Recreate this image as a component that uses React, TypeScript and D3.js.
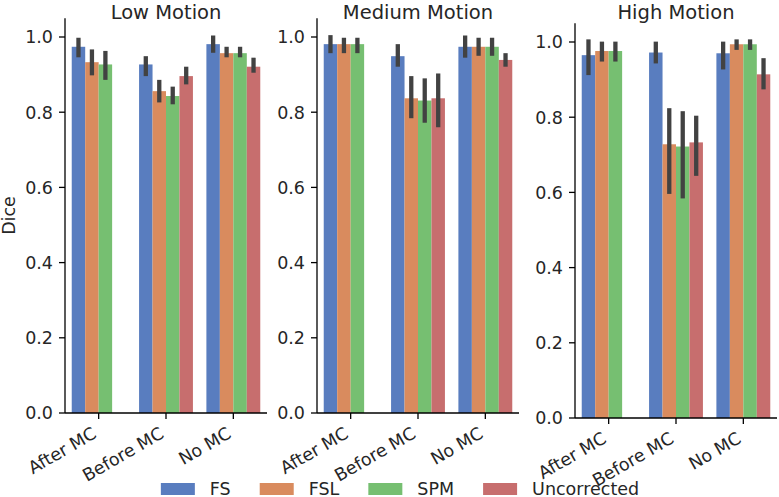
import * as d3 from "d3";

const categories = ["After MC", "Before MC", "No MC"];
const methods = ["FS", "FSL", "SPM", "Uncorrected"];
const colors = ["#597dbf", "#d98b5e", "#76bf71", "#c76e6e"];
const titles = ["Low Motion", "Medium Motion", "High Motion"];
const yTicks = [0, 0.2, 0.4, 0.6, 0.8, 1.0];

// mean dice per [category][method]; null = no bar
const lowMeans = [
  [0.974, 0.933, 0.927, null],
  [0.927, 0.856, 0.843, 0.896],
  [0.981, 0.957, 0.957, 0.921],
];
const lowErr = [
  [[0.946, 0.998], [0.898, 0.967], [0.886, 0.963], null],
  [[0.896, 0.949], [0.826, 0.886], [0.821, 0.868], [0.874, 0.921]],
  [[0.958, 1.004], [0.946, 0.974], [0.946, 0.974], [0.905, 0.945]],
];
const medMeans = [
  [0.981, 0.981, 0.981, null],
  [0.949, 0.837, 0.831, 0.837],
  [0.974, 0.974, 0.974, 0.939],
];
const medErr = [
  [[0.957, 1.005], [0.957, 0.998], [0.957, 0.998], null],
  [[0.921, 0.981], [0.784, 0.896], [0.772, 0.89], [0.76, 0.903]],
  [[0.945, 1.004], [0.95, 0.998], [0.95, 0.998], [0.921, 0.957]],
];
const highMeans = [
  [0.965, 0.976, 0.976, null],
  [0.972, 0.728, 0.722, 0.733],
  [0.97, 0.994, 0.994, 0.914],
];
const highErr = [
  [[0.912, 1.007], [0.948, 1.001], [0.948, 1.001], null],
  [[0.943, 1.001], [0.596, 0.824], [0.584, 0.816], [0.644, 0.804]],
  [[0.927, 1.001], [0.979, 1.007], [0.979, 1.007], [0.874, 0.957]],
];

const panelMeans = [lowMeans, medMeans, highMeans];
const panelErr = [lowErr, medErr, highErr];

const W = 779;
const H = 497;
const FONT = "DejaVu Sans";
const TXT = "#262626";
const FS = 17.5;
const panelX = [
  [65, 267],
  [317, 519],
  [575, 777],
];
const panelBottom = [413, 413, 418];
const unit = 376;

function measure(text: string, size: number) {
  const ctx = document.createElement("canvas").getContext("2d");
  if (!ctx) return text.length * size * 0.6;
  ctx.font = `${size}px "${FONT}"`;
  return ctx.measureText(text).width;
}

function Panel({ idx }: { idx: number }) {
  const [x0, x1] = panelX[idx];
  const yB = panelBottom[idx];
  const y = d3.scaleLinear().domain([0, 1.05]).range([yB, yB - 1.05 * unit]);
  const x = d3
    .scaleBand()
    .domain(categories)
    .range([x0, x1])
    .paddingInner(0.2)
    .paddingOuter(0.1);
  const xHue = d3.scaleBand().domain(methods).range([0, x.bandwidth()]);
  const means = panelMeans[idx];
  const errs = panelErr[idx];

  return (
    <g>
      {categories.map((cat, ci) =>
        methods.map((m, mi) => {
          const v = means[ci][mi];
          if (v == null) return null;
          const bx = (x(cat) ?? 0) + (xHue(m) ?? 0);
          return (
            <rect
              key={cat + m}
              x={bx}
              y={y(v)}
              width={xHue.bandwidth()}
              height={y(0) - y(v)}
              fill={colors[mi]}
            />
          );
        })
      )}
      {categories.map((cat, ci) =>
        methods.map((m, mi) => {
          const e = errs[ci][mi];
          if (e == null) return null;
          const cx = (x(cat) ?? 0) + (xHue(m) ?? 0) + xHue.bandwidth() / 2;
          return (
            <line
              key={"e" + cat + m}
              x1={cx}
              x2={cx}
              y1={y(e[0])}
              y2={y(e[1])}
              stroke="#424242"
              strokeWidth={4.3}
            />
          );
        })
      )}
      {/* spines */}
      <line x1={x0} x2={x0} y1={y(1.05)} y2={yB} stroke="#000" strokeWidth={1.3} />
      <line x1={x0} x2={x1} y1={yB} y2={yB} stroke="#000" strokeWidth={1.3} />
      {yTicks.map((t) => (
        <g key={t}>
          <line x1={x0 - 6} x2={x0} y1={y(t)} y2={y(t)} stroke="#000" strokeWidth={1.3} />
          <text
            x={x0 - 12}
            y={y(t)}
            dy="0.36em"
            textAnchor="end"
            fontSize={FS}
            fontFamily={FONT}
            fill={TXT}
          >
            {d3.format(".1f")(t)}
          </text>
        </g>
      ))}
      {categories.map((cat) => {
        const cx = (x(cat) ?? 0) + x.bandwidth() / 2;
        return (
          <g key={"t" + cat}>
            <line x1={cx} x2={cx} y1={yB} y2={yB + 6} stroke="#000" strokeWidth={1.3} />
            <text
              transform={`translate(${cx - 1},${yB + 24}) rotate(-30)`}
              textAnchor="end"
              fontSize={FS}
              fontFamily={FONT}
              fill={TXT}
            >
              {cat}
            </text>
          </g>
        );
      })}
      <text
        x={(x0 + x1) / 2}
        y={19}
        textAnchor="middle"
        fontSize={19.5}
        fontFamily={FONT}
        fill={TXT}
      >
        {titles[idx]}
      </text>
    </g>
  );
}

function Legend() {
  const patchW = 34;
  const gapText = 15;
  const gapEntry = 29;
  const widths = methods.map((m) => measure(m, FS));
  const total =
    widths.reduce((a, w) => a + patchW + gapText + w, 0) + gapEntry * (methods.length - 1);
  let cur = 400 - total / 2;
  const items = methods.map((m, i) => {
    const start = cur;
    cur += patchW + gapText + widths[i] + gapEntry;
    return { m, i, start };
  });
  return (
    <g>
      {items.map(({ m, i, start }) => (
        <g key={m}>
          <rect x={start} y={483} width={patchW} height={12} fill={colors[i]} />
          <text
            x={start + patchW + gapText}
            y={494.5}
            fontSize={FS}
            fontFamily={FONT}
            fill={TXT}
          >
            {m}
          </text>
        </g>
      ))}
    </g>
  );
}

export default function App() {
  return (
    <svg
      width={W}
      height={H}
      viewBox={`0 0 ${W} ${H}`}
      style={{ position: "absolute", left: 0, top: 0, background: "#fff" }}
    >
      <rect width={W} height={H} fill="#fff" />
      {titles.map((_, i) => (
        <Panel key={i} idx={i} />
      ))}
      <text
        transform={`translate(15,215.5) rotate(-90)`}
        textAnchor="middle"
        fontSize={FS}
        fontFamily={FONT}
        fill={TXT}
      >
        Dice
      </text>
      <Legend />
    </svg>
  );
}
